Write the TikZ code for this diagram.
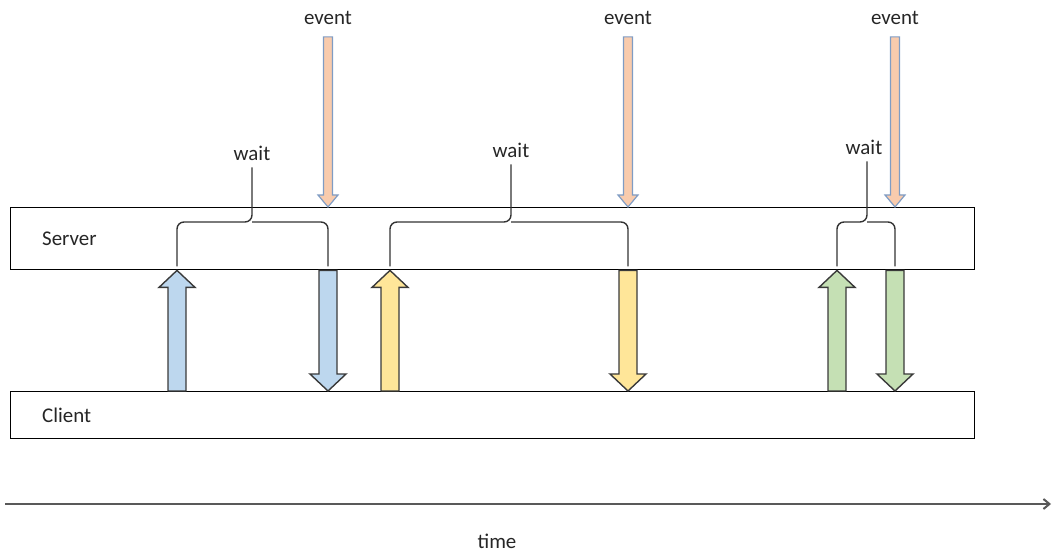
\documentclass[tikz,border=0pt]{standalone}
\usepackage{fontspec}
\setmainfont{Carlito}
\usetikzlibrary{calc,arrows.meta}
\definecolor{evfill}{HTML}{F8CBAD}
\definecolor{evline}{HTML}{7F9CC4}
\definecolor{upblue}{HTML}{BDD7EE}
\definecolor{upyellow}{HTML}{FFE699}
\definecolor{upgreen}{HTML}{C5E0B4}
\definecolor{blkline}{HTML}{3A3A3A}
\definecolor{axisgray}{HTML}{595959}
% block arrow: shaft half width, head half width, head length, tail, tip, style
\newcommand\blockarrow[6]{%
  \filldraw[#6] let \p1=#4, \p2=#5, \n2={\y2-sign(\y2-\y1)*#3} in
    (\x1-#1,\y1) -- (\x1-#1,\n2) -- (\x1-#2,\n2) -- (\x1,\y2)
    -- (\x1+#2,\n2) -- (\x1+#1,\n2) -- (\x1+#1,\y1) -- cycle;}
\tikzset{
  lane/.style={draw=black, line width=1.4bp, minimum width=964bp, anchor=north west, inner sep=0pt},
  lbl/.style={font=\fontsize{21}{24}\selectfont, text=black!85, inner sep=2bp},
  blk/.style={draw=blkline, line width=1.4bp, line join=miter},
  evarr/.style={draw=evline, fill=evfill, line width=1.2bp},
  wbrace/.style={draw=black!80, line width=1.4bp, rounded corners=7bp},
}
\begin{document}
\begin{tikzpicture}[x=1bp,y=-1bp]
  \useasboundingbox (0,0) rectangle (1053,555);
  % Node: Server
  \node[lane, minimum height=62bp] (server) at (10,207) {};
  \node[lbl, anchor=west] (srvlbl) at ([xshift=30bp]server.west) {Server};
  % Node: Client
  \node[lane, minimum height=47bp] (client) at (10,391) {};
  \node[lbl, anchor=west] (clilbl) at ([xshift=30bp]client.west) {Client};
  % request / response positions
  \foreach \n/\x in {up1/177,dn1/328,up2/390,dn2/628,up3/837,dn3/895}
    \coordinate (\n) at (\x,0);
  % Node: events
  \node[lbl] (ev1) at (328,18) {event};
  \node[lbl] (ev2) at (628,18) {event};
  \node[lbl] (ev3) at (895,18) {event};
  % Node: waits
  \node[lbl] (w1) at (252,153) {wait};
  \node[lbl] (w2) at (511,150) {wait};
  \node[lbl] (w3) at (864,147) {wait};
  \coordinate (m1) at (252,222);
  \coordinate (m2) at (511,222);
  \coordinate (m3) at (867,222);
  % Edge: event -> Server
  \blockarrow{4.5bp}{10bp}{12bp}{([yshift=-10bp]ev1.south)}{(ev1 |- server.north)}{evarr}
  \blockarrow{4.5bp}{10bp}{12bp}{([yshift=-10bp]ev2.south)}{(ev2 |- server.north)}{evarr}
  \blockarrow{4.5bp}{10bp}{12bp}{([yshift=-10bp]ev3.south)}{(ev3 |- server.north)}{evarr}
  % Edge: Client -> Server (requests)
  \blockarrow{9bp}{18bp}{17bp}{(up1 |- client.north)}{(up1 |- server.south)}{blk, fill=upblue}
  \blockarrow{9bp}{18bp}{17bp}{(up2 |- client.north)}{(up2 |- server.south)}{blk, fill=upyellow}
  \blockarrow{9bp}{18bp}{17bp}{(up3 |- client.north)}{(up3 |- server.south)}{blk, fill=upgreen}
  % Edge: Server -> Client (responses)
  \blockarrow{9bp}{18bp}{17bp}{(dn1 |- server.south)}{(dn1 |- client.north)}{blk, fill=upblue}
  \blockarrow{9bp}{18bp}{17bp}{(dn2 |- server.south)}{(dn2 |- client.north)}{blk, fill=upyellow}
  \blockarrow{9bp}{18bp}{17bp}{(dn3 |- server.south)}{(dn3 |- client.north)}{blk, fill=upgreen}
  % wait braces
  \draw[wbrace] ([yshift=4bp]up1 |- server.south) |- (m1) -- ([yshift=-5bp]w1.south);
  \draw[wbrace] ([yshift=4bp]dn1 |- server.south) |- (m1);
  \draw[wbrace] ([yshift=4bp]up2 |- server.south) |- (m2) -- ([yshift=-5bp]w2.south);
  \draw[wbrace] ([yshift=4bp]dn2 |- server.south) |- (m2);
  \draw[wbrace] ([yshift=4bp]up3 |- server.south) |- (m3) -- ([yshift=-5bp]m3 |- w3.south);
  \draw[wbrace] ([yshift=4bp]dn3 |- server.south) |- (m3);
  % time axis
  \coordinate (t0) at (5,504);
  \coordinate (t1) at (1051,504);
  \draw[axisgray, line width=2bp, -{Straight Barb[length=6bp,width=10bp]}] (t0) -- (t1);
  \node[lbl] (time) at (497,541) {time};
\end{tikzpicture}
\end{document}
